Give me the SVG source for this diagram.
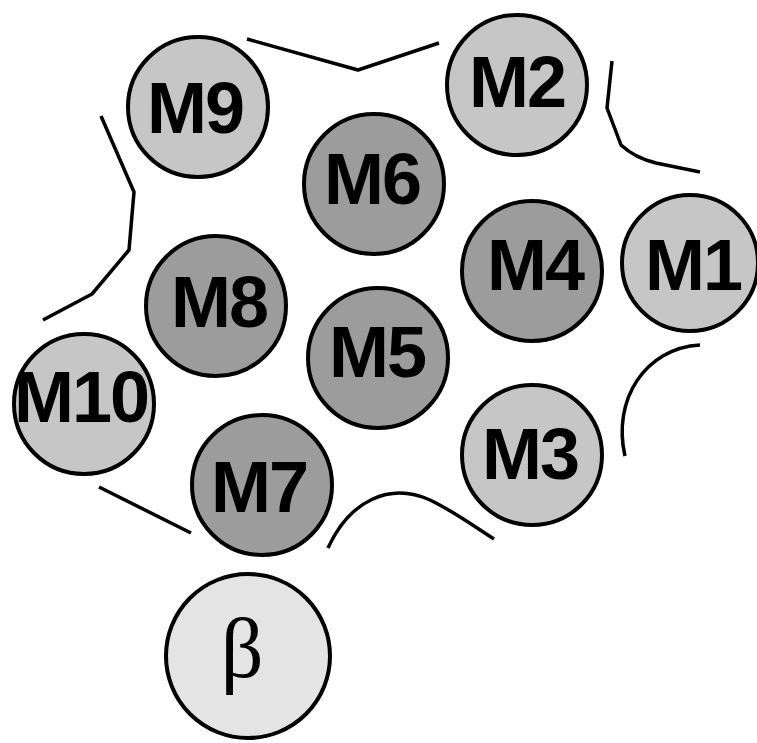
<svg xmlns="http://www.w3.org/2000/svg" width="757" height="743" viewBox="0 0 757 743">
<style>
.light{fill:#c6c6c6;stroke:#000;stroke-width:4}
.dark{fill:#9c9c9c;stroke:#000;stroke-width:4}
.beta{fill:#e4e4e4;stroke:#000;stroke-width:4}
.lbl{font-family:"Liberation Sans",Arial,sans-serif;font-weight:bold;font-size:72px;text-anchor:middle;fill:#000;letter-spacing:-2px}
.blbl{font-family:"Liberation Serif","Times New Roman",serif;font-size:84px;text-anchor:middle;fill:#000}
.ln{fill:none;stroke:#000;stroke-width:3.5;stroke-linejoin:round}
</style>
<rect width="757" height="743" fill="#fff"/>
<g id="connectors">
<path class="ln" d="M247,39 L358,70 L439,43"/>
<path class="ln" d="M612,61 L607,108 L621,145 Q635,158 656,163 L700,172"/>
<path class="ln" d="M101,116 L134,192 L129,250 L92,294 L43,320"/>
<path class="ln" d="M700,345 C645,348 612,400 625,456"/>
<path class="ln" d="M99,487 L191,533"/>
<path class="ln" d="M328,548 C350,500 390,482 430,500 C455,512 475,527 494,539"/>
</g>
<g id="M9"><circle class="light" cx="198" cy="107" r="70"/><text class="lbl" x="195" y="133">M9</text></g>
<g id="M2"><circle class="light" cx="517" cy="85" r="70"/><text class="lbl" x="517" y="107">M2</text></g>
<g id="M6"><circle class="dark" cx="374" cy="184" r="70"/><text class="lbl" x="372" y="204">M6</text></g>
<g id="M4"><circle class="dark" cx="532" cy="271" r="70"/><text class="lbl" x="535" y="290">M4</text></g>
<g id="M1"><circle class="light" cx="690" cy="263" r="68"/><text class="lbl" x="693" y="290">M1</text></g>
<g id="M8"><circle class="dark" cx="216" cy="306" r="70"/><text class="lbl" x="219" y="327">M8</text></g>
<g id="M5"><circle class="dark" cx="378" cy="358" r="70"/><text class="lbl" x="377" y="377">M5</text></g>
<g id="M10"><circle class="light" cx="84" cy="404" r="70"/><text class="lbl" x="81" y="422">M10</text></g>
<g id="M3"><circle class="light" cx="532" cy="455" r="70"/><text class="lbl" x="530" y="479">M3</text></g>
<g id="M7"><circle class="dark" cx="262" cy="485" r="70"/><text class="lbl" x="259" y="512">M7</text></g>
<g id="beta"><circle class="beta" cx="248" cy="656" r="82"/><text class="blbl" x="242" y="677">β</text></g>
</svg>
